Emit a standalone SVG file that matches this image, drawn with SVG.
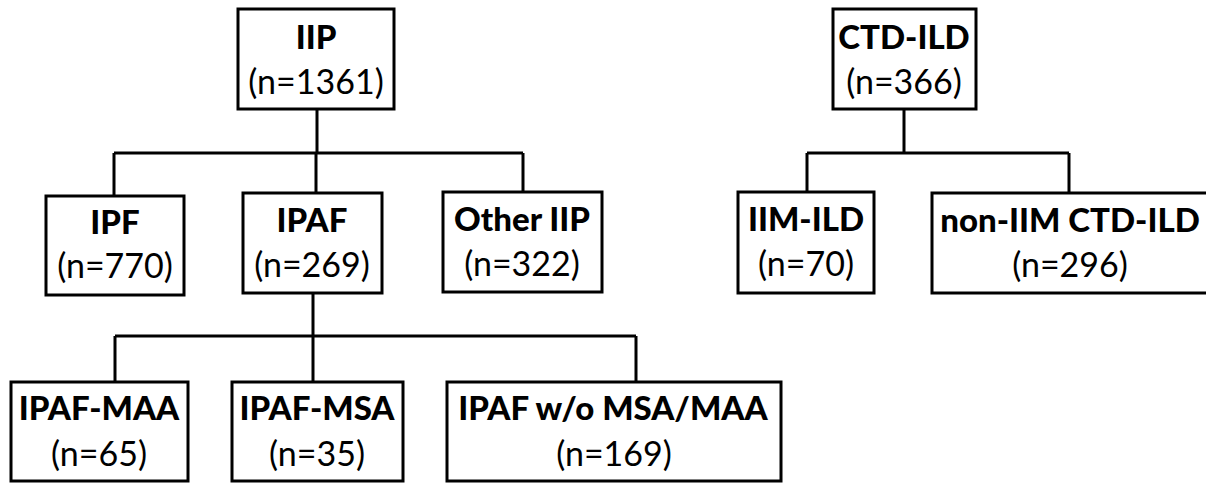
<svg xmlns="http://www.w3.org/2000/svg" width="1206" height="483" viewBox="0 0 1206 483">
<style>
.box{fill:#fff;stroke:#000;stroke-width:3}
.ln{fill:none;stroke:#000;stroke-width:3}
.t{font-family:"Lato","Liberation Sans",sans-serif;font-weight:900;font-size:33px;text-anchor:middle;fill:#000}
.n{font-family:"Lato","Liberation Sans",sans-serif;font-size:34px;text-anchor:middle;fill:#000}
</style>
<rect width="1206" height="483" fill="#fff"/>
<g id="connectors">
<path class="ln" d="M317 109V153M114 153H523M114 153V196M316 153V193M523 153V192"/>
<path class="ln" d="M313 293V336M115 336H636M115 336V382M313 336V382M636 336V382"/>
<path class="ln" d="M904 109V153M807 153H1069M807 153V192M1069 153V193"/>
</g>
<g id="iip"><rect class="box" x="238" y="9" width="156" height="100"/><text class="t" x="316" y="49">IIP</text><text class="n" x="316" y="94">(n=1361)</text></g>
<g id="ipf"><rect class="box" x="46" y="196" width="138" height="99"/><text class="t" x="115" y="234">IPF</text><text class="n" x="115" y="278">(n=770)</text></g>
<g id="ipaf"><rect class="box" x="243" y="193" width="139" height="100"/><text class="t" x="312" y="232">IPAF</text><text class="n" x="312" y="277">(n=269)</text></g>
<g id="other-iip"><rect class="box" x="443" y="192" width="159" height="100"/><text class="t" x="522" y="231">Other IIP</text><text class="n" x="522" y="276">(n=322)</text></g>
<g id="ipaf-maa"><rect class="box" x="11" y="382" width="177" height="99"/><text class="t" x="99" y="420">IPAF-MAA</text><text class="n" x="99" y="466">(n=65)</text></g>
<g id="ipaf-msa"><rect class="box" x="232" y="382" width="171" height="99"/><text class="t" x="317" y="420">IPAF-MSA</text><text class="n" x="317" y="466">(n=35)</text></g>
<g id="ipaf-wo"><rect class="box" x="447" y="382" width="334" height="99"/><text class="t" x="613" y="420">IPAF w/o MSA/MAA</text><text class="n" x="614" y="466">(n=169)</text></g>
<g id="ctd-ild"><rect class="box" x="833" y="9" width="143" height="100"/><text class="t" x="904" y="49">CTD-ILD</text><text class="n" x="904" y="94">(n=366)</text></g>
<g id="iim-ild"><rect class="box" x="738" y="192" width="136" height="101"/><text class="t" x="806" y="231">IIM-ILD</text><text class="n" x="806" y="276">(n=70)</text></g>
<g id="non-iim"><rect class="box" x="932" y="193" width="276" height="100"/><text class="t" x="1070" y="232">non-IIM CTD-ILD</text><text class="n" x="1070" y="277">(n=296)</text></g>
</svg>
